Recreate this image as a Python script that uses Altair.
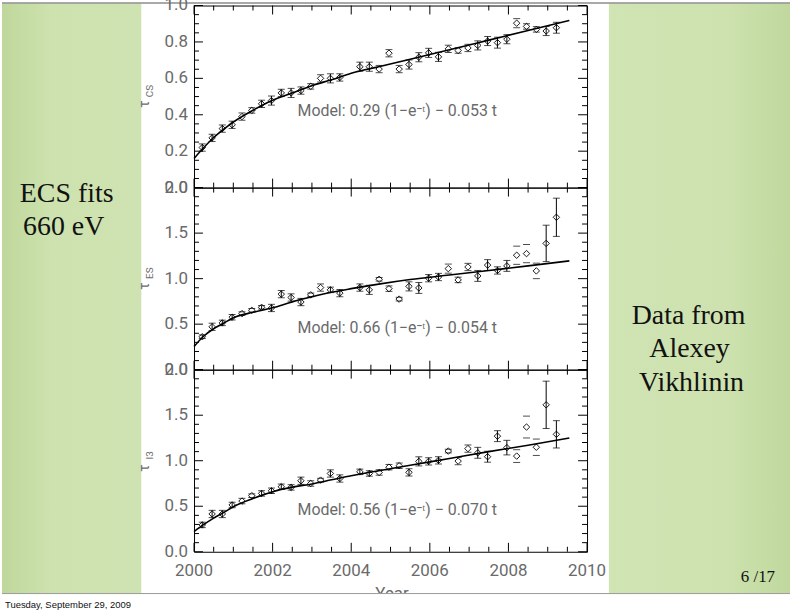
import altair as alt
import pandas as pd

# ---------------- data ----------------
years = [2000.21, 2000.46, 2000.72, 2000.97, 2001.22, 2001.47, 2001.72, 2001.97,
         2002.22, 2002.47, 2002.72, 2002.97, 2003.22, 2003.47, 2003.71, 2004.22,
         2004.46, 2004.71, 2004.96, 2005.22, 2005.47, 2005.72, 2005.97, 2006.22,
         2006.47, 2006.72, 2006.97, 2007.22, 2007.47, 2007.72, 2007.96, 2008.21,
         2008.46, 2008.71, 2008.96, 2009.22]
full_bar = [1, 1, 1, 1, 0, 0, 1, 1, 1, 1, 1, 0, 0, 1, 1, 1, 1, 0, 0, 0, 1, 1, 1, 1,
            0, 0, 0, 1, 1, 1, 1, 0, 0, 0, 1, 1]

p1_val = [0.22, 0.273, 0.324, 0.345, 0.39, 0.424, 0.46, 0.478, 0.52, 0.52, 0.533, 0.556,
          0.60, 0.60, 0.605, 0.664, 0.664, 0.651, 0.738, 0.651, 0.676, 0.716, 0.74, 0.718,
          0.762, 0.753, 0.767, 0.781, 0.805, 0.796, 0.815, 0.903, 0.885, 0.869, 0.86, 0.878]
p1_err = [0.02, 0.02, 0.02, 0.02, 0.02, 0.015, 0.02, 0.025, 0.02, 0.025, 0.02, 0.015,
          0.02, 0.025, 0.02, 0.025, 0.025, 0.02, 0.02, 0.02, 0.025, 0.025, 0.025, 0.025,
          0.02, 0.015, 0.02, 0.025, 0.025, 0.03, 0.025, 0.025, 0.015, 0.015, 0.025, 0.03]

p2_val = [0.362, 0.471, 0.514, 0.576, 0.616, 0.652, 0.685, 0.678, 0.83, 0.793, 0.743, 0.822,
          0.902, 0.877, 0.841, 0.902, 0.877, 0.993, 0.89, 0.775, 0.915, 0.898, 1.005, 1.018,
          1.11, 0.986, 1.128, 1.03, 1.149, 1.09, 1.14, 1.257, 1.275, 1.085, 1.387, 1.674]
p2_err = [0.02, 0.04, 0.03, 0.03, 0.02, 0.02, 0.02, 0.04, 0.04, 0.04, 0.04, 0.02,
          0.04, 0.03, 0.04, 0.04, 0.05, 0.02, 0.03, 0.02, 0.05, 0.06, 0.04, 0.04,
          0.05, 0.03, 0.04, 0.06, 0.06, 0.04, 0.06, 0.1, 0.1, 0.085, 0.2, 0.21]

p3_val = [0.295, 0.415, 0.415, 0.514, 0.557, 0.616, 0.641, 0.67, 0.714, 0.707, 0.78, 0.75,
          0.787, 0.86, 0.805, 0.878, 0.86, 0.871, 0.929, 0.945, 0.872, 0.993, 0.993, 1.004,
          1.106, 0.996, 1.133, 1.087, 1.044, 1.27, 1.144, 1.051, 1.37, 1.148, 1.614, 1.29]
p3_err = [0.03, 0.04, 0.04, 0.03, 0.03, 0.02, 0.03, 0.03, 0.03, 0.03, 0.04, 0.03,
          0.02, 0.04, 0.04, 0.03, 0.03, 0.03, 0.03, 0.03, 0.04, 0.05, 0.04, 0.04,
          0.02, 0.04, 0.04, 0.06, 0.06, 0.06, 0.08, 0.07, 0.12, 0.09, 0.26, 0.15]

curve_years = [2000.0, 2000.25, 2000.5, 2000.75, 2001.0, 2001.5, 2002.0, 2002.5, 2003.0,
               2003.5, 2004.0, 2004.7, 2005.5, 2006.5, 2007.5, 2008.5, 2009.55]
p1_curve = [0.16, 0.22, 0.275, 0.32, 0.36, 0.425, 0.48, 0.52, 0.56, 0.592, 0.628, 0.664,
            0.705, 0.757, 0.81, 0.863, 0.918]
p2_curve = [0.254, 0.37, 0.45, 0.51, 0.57, 0.63, 0.68, 0.745, 0.80, 0.85, 0.89, 0.94,
            0.99, 1.04, 1.09, 1.14, 1.195]
p3_curve = [0.222, 0.30, 0.37, 0.43, 0.495, 0.585, 0.66, 0.71, 0.745, 0.79, 0.835, 0.89,
            0.95, 1.025, 1.10, 1.17, 1.25]

x_major = [2000, 2002, 2004, 2006, 2008, 2010]
x_minor = [2000.5, 2001.0, 2001.5, 2002.5, 2003.0, 2003.5, 2004.5, 2005.0, 2005.5,
           2006.5, 2007.0, 2007.5, 2008.5, 2009.0, 2009.5]
y1_major = [0.0, 0.2, 0.4, 0.6, 0.8, 1.0]
y1_minor = [0.05, 0.1, 0.15, 0.25, 0.3, 0.35, 0.45, 0.5, 0.55, 0.65, 0.7, 0.75,
            0.85, 0.9, 0.95]
y2_major = [0.0, 0.5, 1.0, 1.5, 2.0]
y2_minor = [0.1, 0.2, 0.3, 0.4, 0.6, 0.7, 0.8, 0.9, 1.1, 1.2, 1.3, 1.4,
            1.6, 1.7, 1.8, 1.9]

panel_subs = ["CS", "ES", "I3"]
model_texts = ["Model: 0.29 (1\u2212e\u207b\u1d57) \u2212 0.053 t",
               "Model: 0.66 (1\u2212e\u207b\u1d57) \u2212 0.054 t",
               "Model: 0.56 (1\u2212e\u207b\u1d57) \u2212 0.070 t"]
left_lines = ["ECS fits", "660 eV"]
right_lines = ["Data from", "Alexey", "Vikhlinin"]
page_text = "6 /17"
date_text = "Tuesday, September 29, 2009"
x_title = "Year"

# ---------------- layout / style ----------------
W, H = 395, 183
LABEL_FONT = "Roboto"
GRAY = "#6a6a6a"
GREEN_L = alt.Gradient(gradient="linear", x1=0, x2=1, y1=0, y2=0,
                       stops=[alt.GradientStop(color="#bfd79c", offset=0),
                              alt.GradientStop(color="#cde2ae", offset=0.35),
                              alt.GradientStop(color="#cfe3b2", offset=1)])
GREEN_R = alt.Gradient(gradient="linear", x1=0, x2=1, y1=0, y2=0,
                       stops=[alt.GradientStop(color="#d0e4b4", offset=0),
                              alt.GradientStop(color="#cde2ae", offset=0.65),
                              alt.GradientStop(color="#c0d89e", offset=1)])
XS = alt.Scale(domain=[2000, 2010], nice=False, zero=False)


def one():
    return pd.DataFrame({"k": [0]})


def rect(x, x2, y, y2, color, **kw):
    return alt.Chart(one()).mark_rect(color=color, **kw).encode(
        x=alt.value(x), x2=alt.value(x2), y=alt.value(y), y2=alt.value(y2))


def hline(x, x2, y, color, width):
    return alt.Chart(one()).mark_rule(color=color, strokeWidth=width).encode(
        x=alt.value(x), x2=alt.value(x2), y=alt.value(y))


def label(text, x, y, **kw):
    return alt.Chart(one()).mark_text(text=text, **kw).encode(
        x=alt.value(x), y=alt.value(y))


def panel(vals, errs, curve, ydom, ymaj, ymin, sub, model, show_x, before=(), after=()):
    ys = alt.Scale(domain=ydom, nice=False, zero=False)
    pts = pd.DataFrame({"year": years, "val": vals, "err": errs, "full": full_bar})
    pts["lo"] = pts["val"] - pts["err"]
    pts["hi"] = pts["val"] + pts["err"]
    crv = pd.DataFrame({"year": curve_years, "val": curve})

    layers = list(before)

    ymaj_df = pd.DataFrame({"v": ymaj, "lab": [f"{v:.1f}" for v in ymaj]})
    ymin_df = pd.DataFrame({"v": ymin})
    xmaj_df = pd.DataFrame({"v": x_major, "lab": [str(v) for v in x_major]})
    xmin_df = pd.DataFrame({"v": x_minor})

    # tick labels (placed through the scales)
    layers.append(alt.Chart(ymaj_df).mark_text(
        align="right", baseline="middle", font=LABEL_FONT, fontSize=17,
        color=GRAY).encode(
        y=alt.Y("v:Q", scale=ys, axis=None), x=alt.value(-6), text="lab:N"))
    if show_x:
        layers.append(alt.Chart(xmaj_df).mark_text(
            align="center", baseline="top", font=LABEL_FONT, fontSize=17,
            color=GRAY).encode(
            x=alt.X("v:Q", scale=XS, axis=None), y=alt.value(H + 11), text="lab:N"))

    # tick marks drawn inward on all four sides
    for df, ln in ((ymaj_df, 9), (ymin_df, 5)):
        layers.append(alt.Chart(df).mark_rule(color="black", strokeWidth=1).encode(
            y=alt.Y("v:Q", scale=ys, axis=None), x=alt.value(0), x2=alt.value(ln)))
        layers.append(alt.Chart(df).mark_rule(color="black", strokeWidth=1).encode(
            y=alt.Y("v:Q", scale=ys, axis=None), x=alt.value(W), x2=alt.value(W - ln)))
    for df, ln in ((xmaj_df, 9), (xmin_df, 5)):
        layers.append(alt.Chart(df).mark_rule(color="black", strokeWidth=1).encode(
            x=alt.X("v:Q", scale=XS, axis=None), y=alt.value(0), y2=alt.value(ln)))
        layers.append(alt.Chart(df).mark_rule(color="black", strokeWidth=1).encode(
            x=alt.X("v:Q", scale=XS, axis=None), y=alt.value(H), y2=alt.value(H - ln)))

    # model curve
    layers.append(alt.Chart(crv).mark_line(color="black", strokeWidth=1.6,
                                           interpolate="monotone").encode(
        x=alt.X("year:Q", scale=XS, axis=None),
        y=alt.Y("val:Q", scale=ys, axis=None)))

    base = alt.Chart(pts)
    # error bars
    layers.append(base.transform_filter("datum.full == 1").mark_rule(
        color="black", strokeWidth=1).encode(
        x=alt.X("year:Q", scale=XS, axis=None),
        y=alt.Y("lo:Q", scale=ys, axis=None), y2="hi:Q"))
    for f in ("lo", "hi"):
        layers.append(base.mark_tick(orient="horizontal", color="black", size=7,
                                     thickness=1).encode(
            x=alt.X("year:Q", scale=XS, axis=None),
            y=alt.Y(f + ":Q", scale=ys, axis=None)))
    # diamonds
    layers.append(base.mark_point(shape="diamond", filled=False, color="black",
                                  size=42, strokeWidth=0.9, opacity=1).encode(
        x=alt.X("year:Q", scale=XS, axis=None),
        y=alt.Y("val:Q", scale=ys, axis=None)))

    # model text and y title
    layers.append(label(model, 104, 106 if ydom[1] == 1 else 141, align="left",
                        baseline="middle", font=LABEL_FONT, fontSize=16,
                        color=GRAY))
    layers.append(label("\u03c4", -49, 99, angle=270, align="center", baseline="middle",
                        font=LABEL_FONT, fontSize=14, color=GRAY))
    layers.append(label(sub, -44, 86, angle=270, align="center", baseline="middle",
                        font=LABEL_FONT, fontSize=10, color=GRAY))

    layers.extend(after)
    return alt.layer(*layers).properties(width=W, height=H)


# decorations of the slide (panel 1 origin is at page x=193, y=3)
slide_before = [
    rect(-193, 599, -9, -3, "white"),
    rect(-193, -53, -2, 591, GREEN_L),
    rect(417, 599, -2, 591, GREEN_R),
    hline(-193, 599, -2.5, "#8c8c8c", 1.5),
    label(left_lines[0], -128, 189, align="center", font="Liberation Serif",
          fontSize=28, color="#111111"),
    label(left_lines[1], -131, 223, align="center", font="Liberation Serif",
          fontSize=28, color="#111111"),
    label(right_lines[0], 497, 312, align="center", font="Liberation Serif",
          fontSize=28, color="#111111"),
    label(right_lines[1], 498, 345, align="center", font="Liberation Serif",
          fontSize=28, color="#111111"),
    label(right_lines[2], 500, 379, align="center", font="Liberation Serif",
          fontSize=28, color="#111111"),
    label(page_text, 584, 574, align="right", font="Liberation Serif",
          fontSize=17, color="#111111"),
]

# bottom of the slide (panel 3 origin is at page x=193, y=369)
slide_after = [
    label(x_title, 199, 217.5, align="center", baseline="top", font=LABEL_FONT,
          fontSize=17, color=GRAY),
    rect(-193, 599, 225, 243, "white"),
    hline(-193, 599, 225, "#9a9a9a", 1),
    label(date_text, -190, 237, align="left", font="Liberation Sans",
          fontSize=9.5, color="#111111"),
]

p1 = panel(p1_val, p1_err, p1_curve, [0, 1], y1_major, y1_minor, panel_subs[0],
           model_texts[0], False, before=slide_before)
p2 = panel(p2_val, p2_err, p2_curve, [0, 2], y2_major, y2_minor, panel_subs[1],
           model_texts[1], False)
p3 = panel(p3_val, p3_err, p3_curve, [0, 2], y2_major, y2_minor, panel_subs[2],
           model_texts[2], True, after=slide_after)

chart = alt.vconcat(p1, p2, p3, spacing=0, bounds="flush").properties(
    padding={"left": 0, "top": -6, "right": 0, "bottom": 0},
).configure(background="white").configure_view(stroke="black", strokeWidth=1)

chart.save("out.html", embed_options={"renderer": "svg", "actions": False})
